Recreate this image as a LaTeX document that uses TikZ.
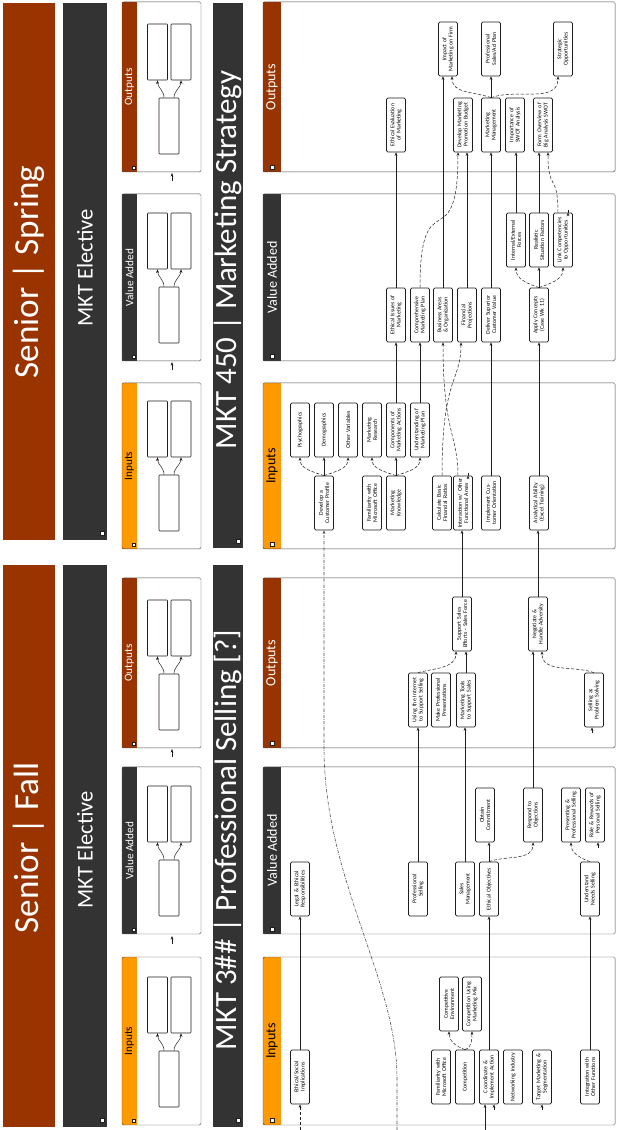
\documentclass[tikz,border=0pt]{standalone}
\usepackage{fontspec}
\setmainfont{Carlito}
\usetikzlibrary{arrows.meta,positioning,calc}
\definecolor{rust}{RGB}{153,51,0}
\definecolor{charcoal}{RGB}{51,51,51}
\definecolor{amber}{RGB}{255,153,0}
\definecolor{ink}{RGB}{30,30,30}
\tikzset{
  bx/.style={draw=ink,line width=1pt,rounded corners=2pt,fill=white,
    minimum width=27mm,minimum height=9.5mm,inner sep=0.5pt,text width=26.5mm,
    align=center,font=\fontsize{8.3}{9}\selectfont},
  sbx/.style={draw=ink,line width=0.8pt,rounded corners=1pt,fill=white,inner sep=0pt,
    minimum width=28mm,minimum height=10mm},
  arr/.style={-{Stealth[length=1.8mm,width=1.4mm]},line width=0.7pt,ink},
  fork/.style={arr,dash pattern=on 1.6mm off 0.9mm},
  longdash/.style={-{Stealth[length=1.8mm,width=1.4mm]},line width=0.8pt,ink!80,
    dash pattern=on 1.6mm off 0.6mm on 0.3mm off 0.6mm},
  pnl/.style={draw=ink!80,line width=0.7pt,rounded corners=2pt},
  striplab/.style={font=\fontsize{20}{20}\selectfont,inner sep=0pt},
  sstriplab/.style={font=\fontsize{16}{16}\selectfont,inner sep=0pt},
  icon/.style={draw=ink,fill=white,line width=0.3pt,minimum size=2mm,inner sep=0pt},
  bigtitle/.style={font=\fontsize{50}{50}\selectfont,text=white,inner sep=0pt},
  midtitle/.style={font=\fontsize{32}{32}\selectfont,text=white,inner sep=0pt},
  course/.style={font=\fontsize{44}{44}\selectfont,text=white,inner sep=0pt},
}

\begin{document}
\begin{tikzpicture}[x=0.5mm,y=-0.5mm,rotate=90,transform shape]
\useasboundingbox (0,0) rectangle (1130,617);

% semester headers
\fill[rust] (3,3) rectangle (565,55);
\fill[rust] (590,3) rectangle (1127,55);
\node[bigtitle] (semfall) at (282,29) {Senior | Fall};
\node[bigtitle] (semspring) at (858,29) {Senior | Spring};
\fill[charcoal] (3,63) rectangle (565,107);
\fill[charcoal] (590,63) rectangle (1127,107);
\node[midtitle] (electfall) at (280,85) {MKT Elective};
\node[midtitle] (electspring) at (862,85) {MKT Elective};
\node[icon] (icelf) at (10,102) {};
\node[icon] (icels) at (597,102) {};

% course titles
\fill[charcoal] (3,213) rectangle (565,243);
\fill[charcoal] (582,213) rectangle (1127,243);
\node[course] (coursefall) at (290,228) {MKT 3\#\# | Professional Selling [?]};
\node[course] (coursespring) at (870,228) {MKT 450 | Marketing Strategy};
\node[icon] (iccf) at (10,238) {};
\node[icon] (iccs) at (589,238) {};

% panels, small row and large row
\foreach \n/\xa/\xb/\col/\tc/\lab in {fi/5/173/amber/black/Inputs,
    fv/196/363/charcoal/white/Value Added, fo/382/552/rust/white/Outputs,
    si/581/747/amber/black/Inputs, sv/769/936/charcoal/white/Value Added,
    so/958/1128/rust/white/Outputs}{
  % small
  \fill[\col] (\xa,122) rectangle (\xb,137);
  \draw[pnl] (\xa,122) rectangle (\xb,201);
  \node[sstriplab,text=\tc] (sl\n) at ({(\xa+\xb)/2},129.5) {\lab};
  \node[icon,minimum size=1.5mm] (sic\n) at (\xa+4,134) {};
  \node[sbx] (sa\n) at (\xa+46,169) {};
  \node[sbx] (sb\n) at (\xa+120,157.5) {};
  \node[sbx] (sc\n) at (\xa+120,181) {};
  \draw[arr] ($(sa\n.east)+(0,-5)$) to[out=0,in=180] (sb\n.west);
  \draw[arr] ($(sa\n.east)+(0,5)$) to[out=0,in=180] (sc\n.west);
  % large
  \fill[\col] (\xa,263) rectangle (\xb,281);
  \draw[pnl] (\xa,263) rectangle (\xb,615);
  \node[striplab,text=\tc] (lab\n) at ({(\xa+\xb)/2},272) {\lab};
  \node[icon] (ic\n) at (\xa+5,272) {};
}
\foreach \x in {186,373,760,949}{
  \coordinate (st\x) at (\x,172);
  \draw[arr] (st\x) -- ++(8,0);
}

% Fall inputs
\node[bx] (ethsocial) at (53,300) {Ethical/Social\\Implications};
\node[bx] (msoffice) at (53,441) {Familiarity with\\Microsoft Office};
\node[bx] (competition) at (53,465) {Competition};
\node[bx] (coordinate) at (53,489) {Coordinate \&\\Implement Action};
\node[bx] (networking) at (53,513) {Networking Industry};
\node[bx] (target) at (53,542) {Target Marketing \&\\Segmentation};
\node[bx] (integration) at (53,590) {Integration with\\Other Functions};
\node[bx] (compenv) at (126,449) {Competitive\\Environment};
\node[bx] (compmix) at (126,472) {Competition Using\\Marketing Mix};

% Fall value added
\node[bx] (legal) at (241,300) {Legal \& Ethical\\Responsibilities};
\node[bx] (profsell) at (241,418) {Professional\\Selling};
\node[bx] (salesmgmt) at (241,465) {Sales\\Management};
\node[bx] (objectives) at (241,489) {Ethical Objectives};
\node[bx] (understand) at (241,590) {Understand\\Needs Selling};
\node[bx] (commitment) at (315,485) {Obtain\\Commitment};
\node[bx] (respond) at (315,533) {Respond to\\Objections};
\node[bx] (presenting) at (315,571) {Presenting \&\\Professional Selling};
\node[bx] (role) at (315,595) {Role \& Rewards of\\Personal Selling};

% Fall outputs
\node[bx] (internet) at (430,418) {Using the Internet\\to Support Selling};
\node[bx] (presentations) at (430,441) {Make Professional\\Presentations};
\node[bx] (tools) at (430,466) {Marketing Tools\\to Support Sales};
\node[bx] (selling) at (430,594) {Selling as\\Problem Solving};
\node[bx] (supportsales) at (506,462) {Support Sales\\Efforts - Sales Force};
\node[bx] (adversity) at (506,538) {Negotiate \&\\Handle Adversity};

% Spring inputs
\node[bx] (psycho) at (700,300) {Psychographics};
\node[bx] (demo) at (700,324) {Demographics};
\node[bx] (othervar) at (700,348) {Other Variables};
\node[bx] (mktresearch) at (700,372) {Marketing\\Research};
\node[bx] (components) at (700,396) {Components of\\Marketing Actions};
\node[bx] (understanding) at (700,420) {Understanding of\\Marketing Plan};
\node[bx] (profile) at (627,324) {Develop a\\Customer Profile};
\node[bx] (msofficeb) at (627,372) {Familiarity with\\Microsoft Office};
\node[bx] (mktknow) at (627,396) {Marketing\\Knowledge};
\node[bx] (ratios) at (627,442) {Calculate Basic\\Financial Ratios};
\node[bx] (interaction) at (627,463) {Interaction w/ Other\\Functional Areas};
\node[bx] (implement) at (627,491) {Implement Cus-\\tomer Orientation};
\node[bx] (analytical) at (627,539) {Analytical Ability\\(Excel Training)};

% Spring value added
\node[bx] (ethissues) at (815,396) {Ethical Issues of\\Marketing};
\node[bx] (compplan) at (815,420) {Comprehensive\\Marketing Plan};
\node[bx] (bizareas) at (815,443) {Business Areas\\\& Organization};
\node[bx] (finproj) at (815,467) {Financial\\Projections};
\node[bx] (custvalue) at (815,491) {Deliver Superior\\Customer Value};
\node[bx] (apply) at (815,539) {Apply Concepts\\(Case Wk 11)};
\node[bx] (forces) at (890,516) {Internal/External\\Forces};
\node[bx] (realistic) at (890,539) {Realistic\\Situation Factors};
\node[bx] (link) at (890,563) {Link Competencies\\to Opportunities};

% Spring outputs
\node[bx] (evalmkt) at (1005,396) {Ethical Evaluation\\of Marketing};
\node[bx] (budget) at (1005,463) {Develop Marketing\\Promotion Budget};
\node[bx] (mktmgmt) at (1005,491) {Marketing\\Management};
\node[bx] (swot) at (1005,515) {Importance of\\SWOT Analysis};
\node[bx] (overview) at (1005,543) {Form Overview of\\Big Analysis SWOT};
\node[bx] (impact) at (1081,448) {Impact of\\Marketing on Firm};
\node[bx] (salesplan) at (1081,491) {Professional\\Sales/Ad Plan};
\node[bx] (strategic) at (1081,563) {Strategic\\Opportunities};

% loose ends
\coordinate (estart) at (0,300);
\coordinate (cstart) at (0,485);
\coordinate (dstart) at (0,397);

% Fall connectors
\draw[fork] (estart) -- (ethsocial.west);
\draw[arr] (cstart) -- (cstart -| coordinate.west);
\draw[arr] ($(coordinate.west)+(-6,5)$) -- ($(coordinate.west)+(0,5)$);
\draw[arr] ($(target.west)+(-6,0)$) -- (target.west);
\draw[arr] (ethsocial) -- (legal);
\draw[fork] (competition.east) to[out=70,in=180] (compenv.west);
\draw[fork] (competition.east) to[out=-70,in=180] (compmix.west);
\draw[arr] (coordinate) -- (objectives);
\draw[arr] (integration) -- (understand);
\draw[arr] (profsell) -- (internet);
\draw[arr] (salesmgmt.east) -- (salesmgmt.east -| tools.west);
\draw[arr] (objectives.east) -- (objectives.east -| commitment.west);
\draw[fork] (objectives.east) to[out=-70,in=180] (respond.west);
\draw[fork] (understand.east) to[out=70,in=180] (presenting.west);
\draw[arr] ($(role.west)+(-6,3)$) -- ($(role.west)+(0,3)$);
\draw[arr] (respond.east) -- (respond.east -| adversity.west);
\draw[fork] (internet.east) to[out=-75,in=180] ($(supportsales.west)+(0,-6)$);
\draw[arr] (tools.east) -- (tools.east -| supportsales.west);
\draw[fork] (selling.east) to[out=70,in=180] ($(adversity.west)+(0,4)$);
\draw[arr] ($(selling.west)+(-6,-2)$) -- ($(selling.west)+(0,-2)$);

% Fall to Spring
\draw[arr] (supportsales.east) -- (supportsales.east -| interaction.west);
\draw[arr] (adversity.east) -- (adversity.east -| analytical.west);
\draw[longdash] (dstart) -- (52,397) .. controls (150,397) and (250,325) .. (380,324)
  -- (profile.west);

% Spring connectors
\draw[fork] (profile.east) to[out=70,in=180] (psycho.west);
\draw[arr] (profile) -- (demo);
\draw[fork] (profile.east) to[out=-70,in=180] (othervar.west);
\draw[fork] (mktknow.east) to[out=70,in=180] (mktresearch.west);
\draw[arr] (mktknow) -- (components);
\draw[fork] (mktknow.east) to[out=-70,in=180] (understanding.west);
\draw[arr] (components) -- (ethissues);
\draw[arr] (understanding) -- (compplan);
\draw[fork] (ratios.east) .. controls +(100,0) and +(-40,0) .. ($(finproj.west)+(0,-6)$);
\draw[fork] ($(interaction.east)+(0,-5)$) .. controls +(40,0) and +(-90,0) .. (bizareas.west);
\draw[arr] ($(interaction.east)+(0,5)$) -- ($(interaction.east)+(0,5)$ -| finproj.west);
\draw[arr] (implement) -- (custvalue);
\draw[arr] (analytical) -- (apply);
\draw[fork] (apply.east) to[out=70,in=180] (forces.west);
\draw[arr] (apply.east) -- (apply.east -| realistic.west);
\draw[fork] (apply.east) to[out=-70,in=180] (link.west);
\draw[arr] (ethissues) -- (evalmkt);
\draw[fork] (compplan.east) .. controls +(110,0) and +(-110,0) .. ($(budget.west)+(0,-5)$);
\draw[arr] (bizareas.east) -- (bizareas.east -| impact.west);
\draw[arr] (finproj.east) -- (finproj.east -| budget.west);
\draw[arr] (custvalue) -- (mktmgmt);
\draw[arr] (forces.east) -- (forces.east -| swot.west);
\draw[arr] (realistic.east) -- (realistic.east -| overview.west);
\draw[fork] ($(link.east)+(0,-5)$) .. controls +(40,0) and +(-40,0) .. ($(overview.west)+(0,5)$);
\draw[arr] ($(link.east)+(0,5)$) -- ($(link.east)+(0,5)$ -| strategic.west);
\draw[fork] (mktmgmt.east) to[out=70,in=180] ($(impact.west)+(0,4)$);
\draw[arr] (mktmgmt) -- (salesplan);
\draw[fork] (mktmgmt.east) to[out=-70,in=180] ($(strategic.west)+(0,-5)$);
\end{tikzpicture}
\end{document}
